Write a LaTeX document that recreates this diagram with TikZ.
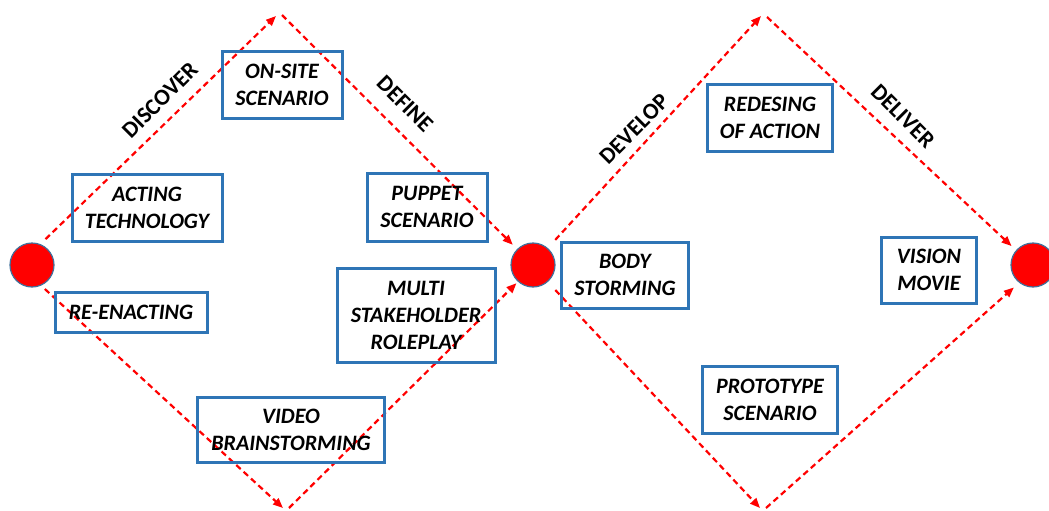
\documentclass[tikz,border=0pt]{standalone}
\usepackage{fontspec}
\setmainfont{Carlito}
\usetikzlibrary{arrows.meta}
\definecolor{boxblue}{RGB}{46,117,182}
\definecolor{ringblue}{RGB}{65,113,156}
\begin{document}
\begin{tikzpicture}[x=1pt,y=-1pt,
  flow/.style={draw=red,line width=2.2pt,dash pattern=on 6pt off 4pt,
    -{Triangle[length=10pt,width=8pt]}},
  stage/.style={circle,fill=red,draw=ringblue,line width=1.2pt,
    minimum size=44pt,inner sep=0pt},
  method/.style={draw=boxblue,line width=3pt,align=center,inner sep=0pt,
    font=\fontsize{22}{27}\selectfont\bfseries\itshape},
  phase/.style={font=\fontsize{23}{27}\selectfont\bfseries}]
\useasboundingbox (0,0) rectangle (1049,511);

% stage markers
\node[stage] (c1) at (32,265) {};
\node[stage] (c2) at (533,265) {};
\node[stage] (c3) at (1033,265) {};

% diamond corners
\coordinate (t1a) at (276,16);
\coordinate (t1b) at (282,15);
\coordinate (b1a) at (283,508);
\coordinate (b1b) at (289,508);
\coordinate (t2a) at (761,16);
\coordinate (t2b) at (767,17);
\coordinate (b2a) at (760,508);
\coordinate (b2b) at (766,508);

% flows
\draw[flow,shorten <=7pt] (c1.68) -- (t1a);
\draw[flow,shorten >=6pt] (t1b) -- (c2.135);
\draw[flow,shorten <=5pt] (c1.-66) -- (b1a);
\draw[flow,shorten >=2pt] (b1b) -- (c2.-132);
\draw[flow,shorten <=11pt] (c2.49) -- (t2a);
\draw[flow,shorten >=6pt] (t2b) -- (c3.139);
\draw[flow,shorten <=11pt] (c2.-49) -- (b2a);
\draw[flow,shorten >=7pt] (b2b) -- (c3.-128);

% phase labels
\node[phase,rotate=45] (discover) at (160,100) {DISCOVER};
\node[phase,rotate=-45] (define) at (405,104) {DEFINE};
\node[phase,rotate=45] (develop) at (634,129) {DEVELOP};
\node[phase,rotate=-45] (deliver) at (903,116) {DELIVER};

% methods
\node[method,minimum width=120pt,minimum height=66pt] (onsite) at (282,85) {ON-SITE\\SCENARIO};
\node[method,minimum width=150pt,minimum height=67pt] (acting) at (147,208) {ACTING\\TECHNOLOGY};
\node[method,minimum width=152pt,minimum height=40pt] (reenact) at (131,312) {RE-ENACTING};
\node[method,minimum width=187pt,minimum height=65pt] (video) at (291,430) {VIDEO\\BRAINSTORMING};
\node[method,minimum width=120pt,minimum height=68pt] (puppet) at (427,207) {PUPPET\\SCENARIO};
\node[method,minimum width=158pt,minimum height=94pt] (multi) at (416,315) {MULTI\\STAKEHOLDER\\ROLEPLAY};
\node[method,minimum width=127pt,minimum height=66pt] (body) at (625,275) {BODY\\STORMING};
\node[method,minimum width=125pt,minimum height=67pt] (redesign) at (770,118) {REDESING\\OF ACTION};
\node[method,minimum width=95pt,minimum height=66pt] (vision) at (929,270) {VISION\\MOVIE};
\node[method,minimum width=135pt,minimum height=67pt] (proto) at (770,400) {PROTOTYPE\\SCENARIO};
\end{tikzpicture}
\end{document}
